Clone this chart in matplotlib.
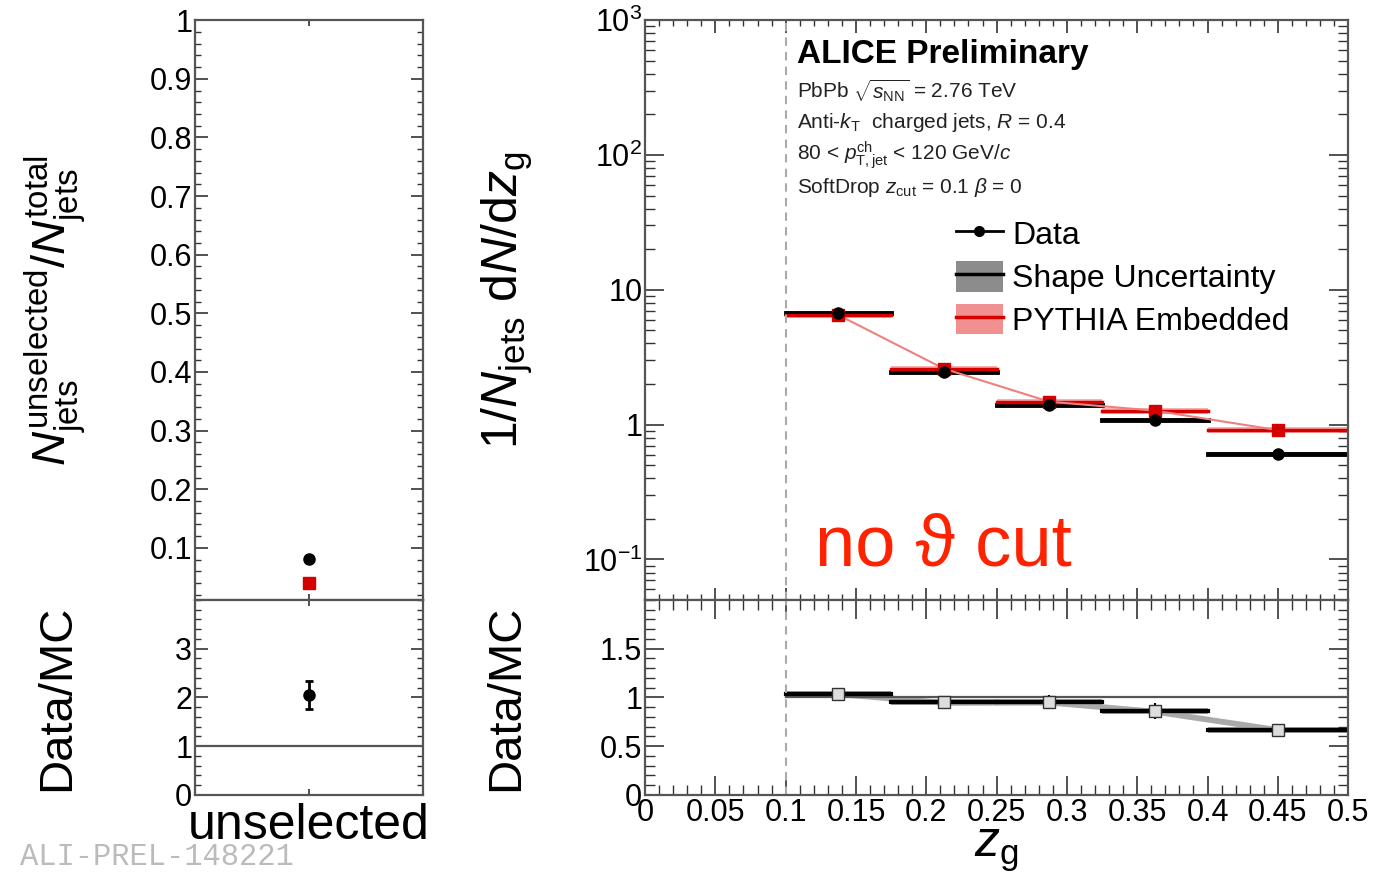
import numpy as np
import matplotlib
matplotlib.use('Agg')
import matplotlib.pyplot as plt
from matplotlib.lines import Line2D
from matplotlib.patches import Patch
from matplotlib.ticker import MultipleLocator, FixedLocator, FixedFormatter, LogLocator, NullFormatter

plt.rcParams['font.family'] = ['Liberation Sans', 'DejaVu Sans']
plt.rcParams['mathtext.fontset'] = 'custom'
plt.rcParams['mathtext.rm'] = 'Liberation Sans'
plt.rcParams['mathtext.it'] = 'Liberation Sans:italic'
plt.rcParams['mathtext.bf'] = 'Liberation Sans:bold'

# z_g bins and measured / embedded distributions
zg_edges = [0.1, 0.175, 0.25, 0.325, 0.4, 0.5]
zg_centers = [0.1375, 0.2125, 0.2875, 0.3625, 0.45]
data_vals = [6.75, 2.47, 1.41, 1.09, 0.61]
data_errs = [0.15, 0.06, 0.04, 0.04, 0.03]
pythia_vals = [6.5, 2.6, 1.48, 1.27, 0.91]
ratio_errs = [0.04, 0.04, 0.07, 0.08, 0.06]

# fraction of jets failing the grooming condition
unsel_label = ['unselected']
unsel_data = [0.081]
unsel_mc = [0.0395]
unsel_ratio_err = [0.28]

RED = '#d40000'
FRAME = '#555555'

fig = plt.figure(figsize=(13.95, 8.76), dpi=100)
axL = fig.add_axes([0.1398, 0.315, 0.1634, 0.662])
axLr = fig.add_axes([0.1398, 0.0925, 0.1634, 0.2226])
axR = fig.add_axes([0.4624, 0.315, 0.504, 0.662])
axRr = fig.add_axes([0.4624, 0.0925, 0.504, 0.2226])

TICK_FS = 22
for ax in (axL, axLr, axR, axRr):
    for s in ax.spines.values():
        s.set_color(FRAME)
        s.set_linewidth(1.6)
    ax.tick_params(which='both', direction='in', top=True, right=True,
                   labelsize=TICK_FS, pad=2, color='#333333')
    ax.tick_params(which='major', length=9, width=1.2)
    ax.tick_params(which='minor', length=4.5, width=1.0)

# ---- left: fraction of unselected jets ----
xc = [0.5]
axL.set_xlim(0, 1)
axL.set_ylim(0.011, 1.0)
axL.plot(xc, unsel_data, 'o', color='black', ms=8)
axL.plot(xc, unsel_mc, 's', color=RED, ms=9)
axL.yaxis.set_major_locator(FixedLocator([0.1, 0.2, 0.3, 0.4, 0.5, 0.6, 0.7, 0.8, 0.9, 1.0]))
axL.yaxis.set_major_formatter(FixedFormatter(['0.1', '0.2', '0.3', '0.4', '0.5', '0.6', '0.7', '0.8', '0.9', '1']))
axL.yaxis.set_minor_locator(MultipleLocator(0.02))
axL.set_xticks(xc)
axL.tick_params(axis='x', labelbottom=False, length=4)
axL.set_ylabel(r'$N_{\rm jets}^{\rm unselected}/N_{\rm jets}^{\rm total}$', fontsize=34)
axL.yaxis.set_label_coords(-0.47, 0.5)

unsel_ratio = [d / m for d, m in zip(unsel_data, unsel_mc)]
axLr.set_xlim(0, 1)
axLr.set_ylim(0, 4)
axLr.axhline(1, color='#555555', lw=1.6)
axLr.errorbar(xc, unsel_ratio, yerr=unsel_ratio_err, fmt='o', color='black',
              ms=8, elinewidth=2, capsize=3, capthick=2)
axLr.set_yticks([0, 1, 2, 3])
axLr.set_yticklabels(['0', '1', '2', '3'])
axLr.yaxis.set_minor_locator(MultipleLocator(0.2))
axLr.set_xticks(xc)
axLr.set_xticklabels(unsel_label, fontsize=36)
axLr.tick_params(axis='x', length=4, pad=6)
axLr.set_ylabel('Data/MC', fontsize=34)
axLr.yaxis.set_label_coords(-0.51, 0.5)

# ---- right: z_g distribution ----
axR.set_xlim(0, 0.5)
axR.set_yscale('log')
axR.set_ylim(0.05, 1000)
lo, hi = zg_edges[:-1], zg_edges[1:]
for i in range(len(zg_centers)):
    axR.fill_between([lo[i], hi[i]], pythia_vals[i] * 0.95, pythia_vals[i] * 1.05,
                     color='#f08080', alpha=0.6, lw=0)
    axR.fill_between([lo[i], hi[i]], data_vals[i] * 0.97, data_vals[i] * 1.03,
                     color='#888888', alpha=0.7, lw=0)
    axR.plot([lo[i], hi[i]], [data_vals[i]] * 2, color='black', lw=3.5)
    axR.plot([lo[i], hi[i]], [pythia_vals[i]] * 2, color=RED, lw=2.5)
axR.plot(zg_centers, pythia_vals, color='#ee8080', lw=1.5)
axR.errorbar(zg_centers, data_vals, yerr=data_errs, fmt='o', color='black',
             ms=8, elinewidth=1.5, capsize=0)
axR.plot(zg_centers, pythia_vals, 's', color=RED, ms=9)
axR.axvline(0.1, color='#aaaaaa', ls=(0, (4, 3)), lw=1.5)

axR.yaxis.set_major_locator(FixedLocator([0.1, 1, 10, 100, 1000]))
axR.yaxis.set_major_formatter(FixedFormatter([r'$10^{-1}$', '1', '10', r'$10^{2}$', r'$10^{3}$']))
axR.yaxis.set_minor_locator(LogLocator(base=10, subs=np.arange(2, 10)))
axR.yaxis.set_minor_formatter(NullFormatter())
axR.xaxis.set_major_locator(MultipleLocator(0.05))
axR.xaxis.set_minor_locator(MultipleLocator(0.01))
axR.tick_params(axis='x', labelbottom=False)
axR.tick_params(axis='y', which='major', length=14)
axR.tick_params(axis='y', which='minor', length=7)
axR.set_ylabel(r'$1/N_{\rm jets}\ {\rm d}N/{\rm d}z_{\rm g}$', fontsize=36)
axR.yaxis.set_label_coords(-0.157, 0.517)

tx = 0.216
axR.text(tx, 0.94, 'ALICE Preliminary', transform=axR.transAxes, fontsize=24,
         fontweight='bold', va='center')
info = [r'PbPb $\sqrt{s_{\rm NN}}$ = 2.76 TeV',
        r'Anti-$k_{\rm T}$  charged jets, $R$ = 0.4',
        r'80 < $p_{\rm T,jet}^{\rm ch}$ < 120 GeV/$c$',
        r'SoftDrop $z_{\rm cut}$ = 0.1 $\beta$ = 0']
for k, line in enumerate(info):
    axR.text(tx, 0.879 - 0.0557 * k, line, transform=axR.transAxes, fontsize=15,
             va='center', color='#222222')

axR.text(0.242, 0.06, 'no ϑ cut', transform=axR.transAxes, fontsize=52,
         color='#ff2200', va='baseline', family=['Liberation Sans', 'DejaVu Sans'])

handles = [Line2D([], [], color='black', lw=2, marker='o', ms=7),
           (Patch(facecolor='#8c8c8c'), Line2D([], [], color='black', lw=2.5)),
           (Patch(facecolor='#f09090'), Line2D([], [], color=RED, lw=2.5))]
labels = ['Data', 'Shape Uncertainty', 'PYTHIA Embedded']
axR.legend(handles, labels, loc='upper left', bbox_to_anchor=(0.42, 0.686),
           frameon=False, fontsize=23, handlelength=1.45, handleheight=1.1,
           handletextpad=0.3, labelspacing=0.3, borderpad=0)

# ---- right: Data/MC ratio ----
ratio = [d / p for d, p in zip(data_vals, pythia_vals)]
axRr.set_xlim(0, 0.5)
axRr.set_ylim(0, 2)
axRr.plot([0.1, 0.5], [1, 1], color='#555555', lw=1.6)
axRr.fill_between(zg_centers, [r - 0.03 for r in ratio], [r + 0.03 for r in ratio],
                  color='#aaaaaa', lw=0)
for i in range(len(zg_centers)):
    axRr.fill_between([lo[i], hi[i]], ratio[i] - 0.03, ratio[i] + 0.03,
                      color='#999999', lw=0)
    axRr.plot([lo[i], hi[i]], [ratio[i]] * 2, color='black', lw=3)
axRr.errorbar(zg_centers, ratio, yerr=ratio_errs, fmt='s', color='black',
              mfc='#dddddd', mec='#333333', ms=8, elinewidth=1.5, capsize=0)
axRr.axvline(0.1, color='#aaaaaa', ls=(0, (4, 3)), lw=1.5)

axRr.set_yticks([0, 0.5, 1, 1.5])
axRr.set_yticklabels(['0', '0.5', '1', '1.5'])
axRr.yaxis.set_minor_locator(MultipleLocator(0.1))
xt = [0, 0.05, 0.1, 0.15, 0.2, 0.25, 0.3, 0.35, 0.4, 0.45, 0.5]
axRr.set_xticks(xt)
axRr.set_xticklabels(['0', '0.05', '0.1', '0.15', '0.2', '0.25', '0.3', '0.35', '0.4', '0.45', '0.5'])
axRr.xaxis.set_minor_locator(MultipleLocator(0.01))
axRr.tick_params(axis='both', which='major', length=14)
axRr.tick_params(axis='both', which='minor', length=7)
axRr.set_xlabel(r'$z_{\rm g}$', fontsize=36, labelpad=0)
axRr.set_ylabel('Data/MC', fontsize=34)
axRr.yaxis.set_label_coords(-0.166, 0.5)

fig.text(0.014, 0.004, 'ALI-PREL-148221', fontsize=22, color='#bbbbbb',
         family='Liberation Mono', va='bottom', zorder=0)

fig.savefig('out.png', dpi=100)
